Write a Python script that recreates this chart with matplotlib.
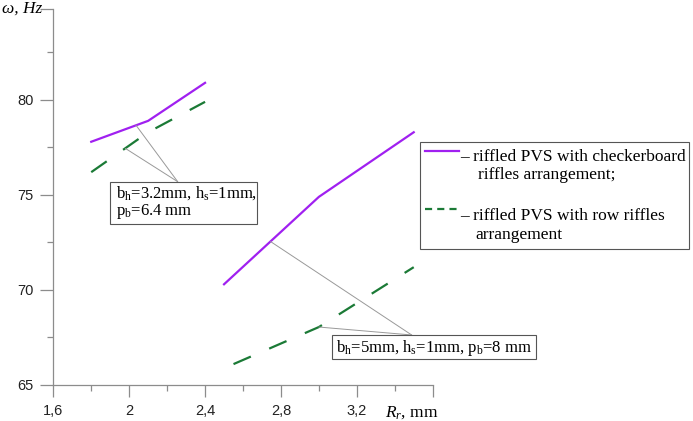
import matplotlib
matplotlib.use('Agg')
import matplotlib.pyplot as plt
from matplotlib.lines import Line2D
from matplotlib.patches import Rectangle

# data
r_check_a = [1.8, 2.1, 2.4]
w_check_a = [77.8, 78.9, 80.9]
r_row_a = [1.8, 2.1, 2.4]
w_row_a = [76.2, 78.3, 79.9]
r_check_b = [2.5, 3.0, 3.5]
w_check_b = [70.3, 74.9, 78.3]
r_row_b = [2.55, 3.0, 3.5]
w_row_b = [66.1, 68.05, 71.2]

x_major = [1.6, 2.0, 2.4, 2.8, 3.2, 3.6]
x_labels = ['1,6', '2', '2,4', '2,8', '3,2', '']
x_minor = [1.8, 2.2, 2.6, 3.0, 3.4]
y_top = 84.77
y_major = [65, 70, 75, 80, y_top]
y_labels = ['65', '70', '75', '80', '']
y_minor = [67.5, 72.5, 77.5, 82.5]

note_a = 'b$_\\mathrm{h}$=3.2mm, h$_\\mathrm{s}$=1mm,\np$_\\mathrm{b}$=6.4 mm'
note_b = 'b$_\\mathrm{h}$=5mm, h$_\\mathrm{s}$=1mm, p$_\\mathrm{b}$=8 mm'
leg_check = ['\u2013 riffled PVS with checkerboard', 'riffles arrangement;']
leg_row = ['\u2013 riffled PVS with row riffles', 'arrangement']

PURPLE = '#a020f0'
GREEN = '#1b7a36'
GREY = '#8c8c8c'
SERIF = 'Liberation Serif'

plt.rcParams['mathtext.fontset'] = 'custom'
plt.rcParams['mathtext.rm'] = SERIF
plt.rcParams['mathtext.it'] = SERIF + ':italic'

W, H = 693, 421
fig = plt.figure(figsize=(W / 100, H / 100), dpi=100)


def fp(px, py):
    # pixel position (from top-left) -> figure fraction
    return px / W, 1 - py / H


L, R, T, B = 53.3, 432.7, 9.3, 385
ax = fig.add_axes([L / W, 1 - B / H, (R - L) / W, (B - T) / H])

dash = (0, (8.5, 9))
ax.plot(r_check_a, w_check_a, color=PURPLE, lw=1.6)
ax.plot(r_row_a, w_row_a, color=GREEN, lw=1.6, linestyle=dash)
ax.plot(r_check_b, w_check_b, color=PURPLE, lw=1.6)
ax.plot(r_row_b, w_row_b, color=GREEN, lw=1.6, linestyle=dash)

ax.set_xlim(1.6, 3.6)
ax.set_ylim(65, y_top)
for s in ['top', 'right']:
    ax.spines[s].set_visible(False)
for s in ['left', 'bottom']:
    ax.spines[s].set_color(GREY)
    ax.spines[s].set_linewidth(0.9)

ax.set_xticks(x_major)
ax.set_xticklabels(x_labels)
ax.set_xticks(x_minor, minor=True)
ax.set_yticks(y_major)
ax.set_yticklabels(y_labels)
ax.set_yticks(y_minor, minor=True)
ax.tick_params(axis='both', which='both', color=GREY, width=0.9,
               labelsize=10.5, labelcolor='#222222')
ax.tick_params(axis='x', which='major', length=8.6, pad=5)
ax.tick_params(axis='y', which='major', length=9.4, pad=5)
ax.tick_params(axis='both', which='minor', length=4.3)
for t in ax.get_xticklabels() + ax.get_yticklabels():
    t.set_fontfamily('Liberation Sans')

# axis captions
fig.text(*fp(1.5, 8.5), '\u03c9, Hz', family=SERIF, style='italic',
         fontsize=12.5, ha='left', va='center')
fig.text(*fp(385, 413), '$\\mathit{R_r}$, mm', family=SERIF,
         fontsize=12.5, ha='left', va='center')

# callouts
lead = dict(arrowstyle='-', color='#999999', lw=0.7, shrinkA=0, shrinkB=0)
for xy in [(2.036, 78.67), (1.98, 77.45)]:
    ax.annotate('', xy=xy, xytext=fp(177.7, 181.7),
                textcoords='figure fraction', arrowprops=lead)
for xy in [(2.745, 72.55), (3.0, 68.05)]:
    ax.annotate('', xy=xy, xytext=fp(411.7, 335),
                textcoords='figure fraction', arrowprops=lead)


def box(x0, y0, x1, y1):
    fx0, fy1 = fp(x0, y1)
    fig.patches.append(Rectangle((fx0, fy1), (x1 - x0) / W, (y1 - y0) / H,
                                 transform=fig.transFigure, fill=True,
                                 facecolor='white', edgecolor='#555555',
                                 lw=0.8, zorder=5))


box(110, 181.7, 257.3, 224)
fig.text(*fp(115.5, 202.5), note_a, family=SERIF, fontsize=12,
         ha='left', va='center', linespacing=1.05, zorder=6)
box(331.7, 335, 536, 359.3)
fig.text(*fp(336, 347.5), note_b, family=SERIF, fontsize=12,
         ha='left', va='center', zorder=6)

# legend drawn by hand to keep the original layout
box(420, 141.7, 689, 249)
fig.lines.append(Line2D([425 / W, 459 / W], [fp(0, 150.7)[1]] * 2,
                        transform=fig.transFigure, color=PURPLE, lw=1.6,
                        zorder=6))
fig.lines.append(Line2D([425 / W, 459 / W], [fp(0, 209)[1]] * 2,
                        transform=fig.transFigure, color=GREEN, lw=1.6,
                        linestyle=(0, (3.2, 2.3)), zorder=6))
for txt, px, py in [(leg_check[0], 460, 156.7), (leg_check[1], 478, 175.5),
                    (leg_row[0], 460, 216), (leg_row[1], 475, 235)]:
    fig.text(*fp(px, py), txt, family=SERIF, fontsize=12.5,
             ha='left', va='center', zorder=6)

fig.savefig('out.png', dpi=100)
